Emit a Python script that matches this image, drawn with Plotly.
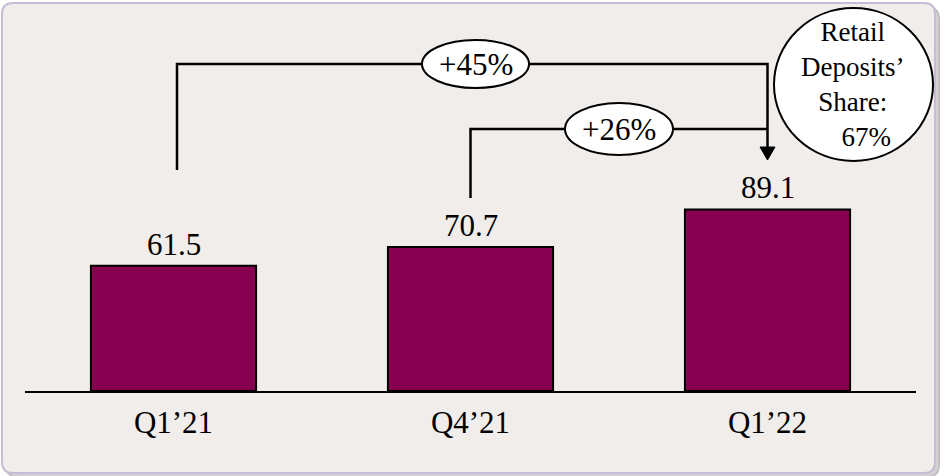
import plotly.graph_objects as go

# ---- data ----
categories = ["Q1’21", "Q4’21", "Q1’22"]
values = [61.5, 70.7, 89.1]
value_labels = ["61.5", "70.7", "89.1"]
growth_labels = ["+45%", "+26%"]
circle_text = "Retail<br>Deposits’<br>Share:<br>\u00a0\u00a0\u00a0\u00a067%"

# ---- layout geometry ----
W, H = 945, 476
L, R, T, B = 25, 29, 20, 85
PW, PH = W - L - R, H - T - B
YMAX = 182.1
FONT = "Liberation Serif, Times New Roman, serif"
BAR_COLOR = "#87004F"
BG = "#F0EDEA"
FS = 31


def xd(px):  # pixel -> x data
    return -0.5 + 3 * (px - L) / PW


def yd(py):  # pixel -> y data
    return YMAX * (H - B - py) / PH


def xp(px):  # pixel -> paper x
    return (px - L) / PW


def yp(py):  # pixel -> paper y
    return (H - B - py) / PH


def rounded(x0, y0, x1, y1, r):
    return (f"M {xp(x0 + r)} {yp(y0)} L {xp(x1 - r)} {yp(y0)} Q {xp(x1)} {yp(y0)} {xp(x1)} {yp(y0 + r)} "
            f"L {xp(x1)} {yp(y1 - r)} Q {xp(x1)} {yp(y1)} {xp(x1 - r)} {yp(y1)} "
            f"L {xp(x0 + r)} {yp(y1)} Q {xp(x0)} {yp(y1)} {xp(x0)} {yp(y1 - r)} "
            f"L {xp(x0)} {yp(y0 + r)} Q {xp(x0)} {yp(y0)} {xp(x0 + r)} {yp(y0)} Z")


xs = list(range(len(categories)))

fig = go.Figure()
fig.add_trace(go.Bar(
    x=xs, y=values, width=0.556,
    marker=dict(color=BAR_COLOR, line=dict(color="black", width=2)),
    hoverinfo="skip",
))

shapes = []
# shadow + rounded border panel
shapes.append(dict(type="path", xref="paper", yref="paper", path=rounded(6, 7, 939, 477, 12),
                   fillcolor="#D4D0D4", line=dict(color="#C4BFC4", width=2), layer="below"))
shapes.append(dict(type="path", xref="paper", yref="paper", path=rounded(2, 3, 935, 473, 11),
                   fillcolor=BG, line=dict(color="#C7BCD5", width=2), layer="below"))

line_style = dict(color="black", width=2.5)
# +45% bracket (Q1'21 -> Q1'22)
b45_y, b45_start, arrow_base, arrow_tip = yd(64), yd(170), yd(147), yd(160)
shapes.append(dict(type="path", xref="x", yref="y",
                   path=f"M {xd(177)} {b45_start} L {xd(177)} {b45_y} L {xs[2]} {b45_y} L {xs[2]} {arrow_base}",
                   line=line_style))
# arrowhead
hw = 7.5 * 3 / PW
shapes.append(dict(type="path", xref="x", yref="y",
                   path=f"M {xs[2] - hw} {arrow_base} L {xs[2] + hw} {arrow_base} L {xs[2]} {arrow_tip} Z",
                   fillcolor="black", line=dict(color="black", width=1)))
# +26% bracket (Q4'21 -> Q1'22)
b26_y, b26_start = yd(129), yd(198)
shapes.append(dict(type="path", xref="x", yref="y",
                   path=f"M {xs[1]} {b26_start} L {xs[1]} {b26_y} L {xs[2]} {b26_y}",
                   line=line_style))
# ellipses
shapes.append(dict(type="circle", xref="x", yref="y", x0=xd(422), x1=xd(529), y0=yd(88), y1=yd(40),
                   fillcolor="white", line=dict(color="black", width=2)))
shapes.append(dict(type="circle", xref="x", yref="y", x0=xd(565), x1=xd(673), y0=yd(155), y1=yd(103),
                   fillcolor="white", line=dict(color="black", width=2)))
# share circle
shapes.append(dict(type="circle", xref="paper", yref="paper", x0=xp(774), x1=xp(933), y0=yp(161), y1=yp(8),
                   fillcolor="white", line=dict(color="black", width=2)))

annotations = []
for x, v, t in zip(xs, values, value_labels):
    annotations.append(dict(x=x, y=v, text=t, showarrow=False, xanchor="center", yanchor="bottom", yshift=2,
                            font=dict(family=FONT, size=FS, color="black")))
annotations.append(dict(x=(xd(422) + xd(529)) / 2, y=yd(64), text=growth_labels[0], showarrow=False,
                        xanchor="center", yanchor="middle",
                        font=dict(family=FONT, size=FS, color="black")))
annotations.append(dict(x=(xs[1] + xs[2]) / 2, y=yd(129), text=growth_labels[1], showarrow=False,
                        xanchor="center", yanchor="middle",
                        font=dict(family=FONT, size=FS, color="black")))
annotations.append(dict(xref="paper", yref="paper", x=xp(853), y=yp(84), text=circle_text, showarrow=False,
                        xanchor="center", yanchor="middle", align="center",
                        font=dict(family=FONT, size=27, color="black")))

fig.update_layout(
    width=W, height=H,
    margin=dict(l=L, r=R, t=T, b=B, pad=0),
    paper_bgcolor="white",
    plot_bgcolor="rgba(0,0,0,0)",
    showlegend=False,
    shapes=shapes,
    annotations=annotations,
    xaxis=dict(range=[-0.5, 2.5], tickvals=xs, ticktext=categories, showline=True, linecolor="black",
               linewidth=2, showgrid=False, zeroline=False, ticks="", ticklabelstandoff=3,
               tickfont=dict(family=FONT, size=FS, color="black"), fixedrange=True),
    yaxis=dict(range=[0, YMAX], visible=False, showgrid=False, zeroline=False, fixedrange=True),
)

fig.write_html("out.html")
